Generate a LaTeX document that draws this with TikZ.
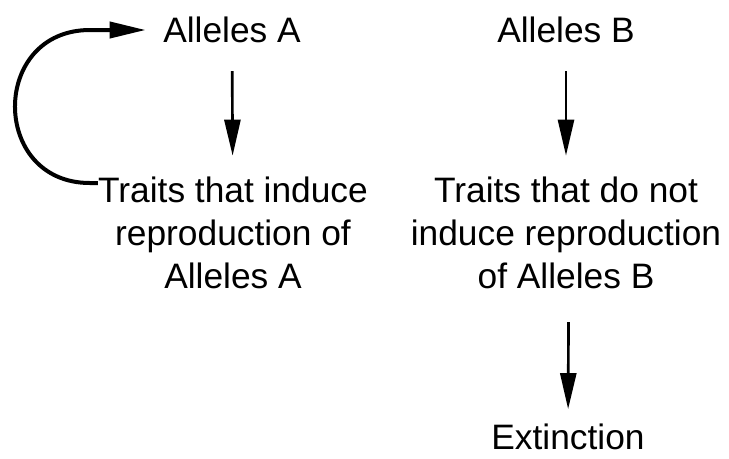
\documentclass[tikz,border=0pt]{standalone}
\usepackage{fontspec}
\setmainfont{Liberation Sans}
\usepackage{tikz}
\usetikzlibrary{arrows.meta}
\usetikzlibrary{positioning}

\begin{document}
\begin{tikzpicture}[x=0.75pt,y=-0.75pt,font=\fontsize{26.5}{32}\selectfont]
\tikzstyle{label}=[align=center,inner sep=0pt]
\tikzstyle{arr}=[line width=2pt,-{Triangle[length=27pt,width=12pt]}]
\useasboundingbox (0,0) rectangle (729,458);
% left column
\node [label] (aa) at (232,30) {Alleles A};
\node [label,anchor=north] (ta) at (233,177) {Traits that induce\\reproduction of\\Alleles A};
% right column
\node [label] (ab) at (566,30) {Alleles B};
\node [label,anchor=north] (tb) at (566,177) {Traits that do not\\induce reproduction\\of Alleles B};
\node [label] (ex) at (568,437) {Extinction};
% arrows
\draw [arr,shorten <=21pt,shorten >=16pt] (aa) -- (ta);
\draw [arr,shorten <=21pt,shorten >=16pt] (ab) -- (tb);
\draw [arr,shorten <=25pt,shorten >=11pt] ([xshift=2pt]tb.south) -- (ex);
% feedback loop
\draw [line width=3pt,-{Triangle[length=27pt,width=12pt]}]
  ([yshift=-4.5pt]ta.north west) -- ++(-8,0)
  .. controls (-10,183) and (-10,30) .. (90,30)
  -- ([xshift=-13pt]aa.west);
\end{tikzpicture}
\end{document}
